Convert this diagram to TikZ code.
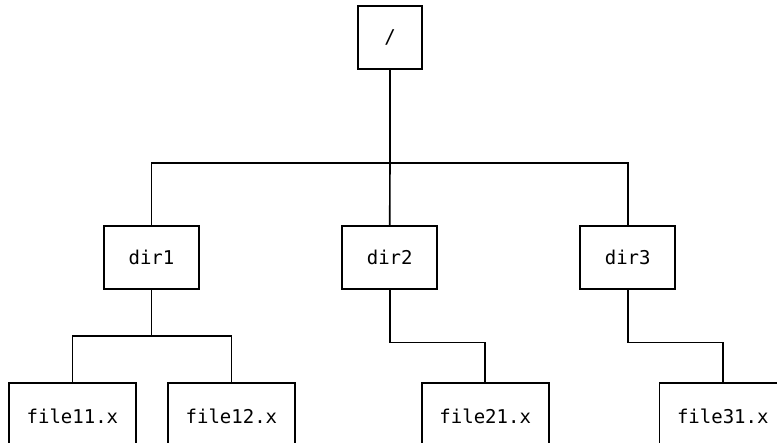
\documentclass[tikz,border=0pt]{standalone}
\usepackage{fontspec}
\setmonofont{DejaVu Sans Mono}
\begin{document}
\begin{tikzpicture}[x=1pt,y=-1pt,line width=1.6pt,
  box/.style={draw=black,rectangle,inner sep=0pt,font=\ttfamily\fontsize{19}{22}\selectfont},
  rootbox/.style={box,minimum width=64pt,minimum height=63pt},
  dirbox/.style={box,minimum width=95pt,minimum height=63pt},
  filebox/.style={box,minimum width=127pt,minimum height=67pt},
  link/.style={draw=black,line width=1.6pt}]
\useasboundingbox (0,0) rectangle (777,443);
\clip (0,0) rectangle (777,443);
\node[rootbox] (root) at (390,37.5) {/};
\node[dirbox] (dir1) at (151.5,257.5) {dir1};
\node[dirbox] (dir2) at (389.7,257.5) {dir2};
\node[dirbox] (dir3) at (627.7,257.5) {dir3};
\node[filebox] (f11) at (72.4,416.5) {file11.x};
\node[filebox] (f12) at (231.4,416.5) {file12.x};
\node[filebox] (f21) at (485.2,416.5) {file21.x};
\node[filebox] (f31) at (722.8,416.5) {file31.x};
\coordinate (j0) at (390,163.3);
\coordinate (j1) at (151.5,336);
\coordinate (j2) at (389.7,342.7);
\coordinate (j3) at (627.7,342.7);
\draw[link] (root.south) -- (j0);
\draw[link] (dir1.north) |- (j0) -| (dir3.north);
\draw[link] (j0) -- (dir2.north);
\draw[link] (dir1.south) -- (j1);
\draw[link] (f11.north) |- (j1) -| (f12.north);
\draw[link] (dir2.south) -- (j2) -| (f21.north);
\draw[link] (dir3.south) -- (j3) -| (f31.north);
\end{tikzpicture}
\end{document}
